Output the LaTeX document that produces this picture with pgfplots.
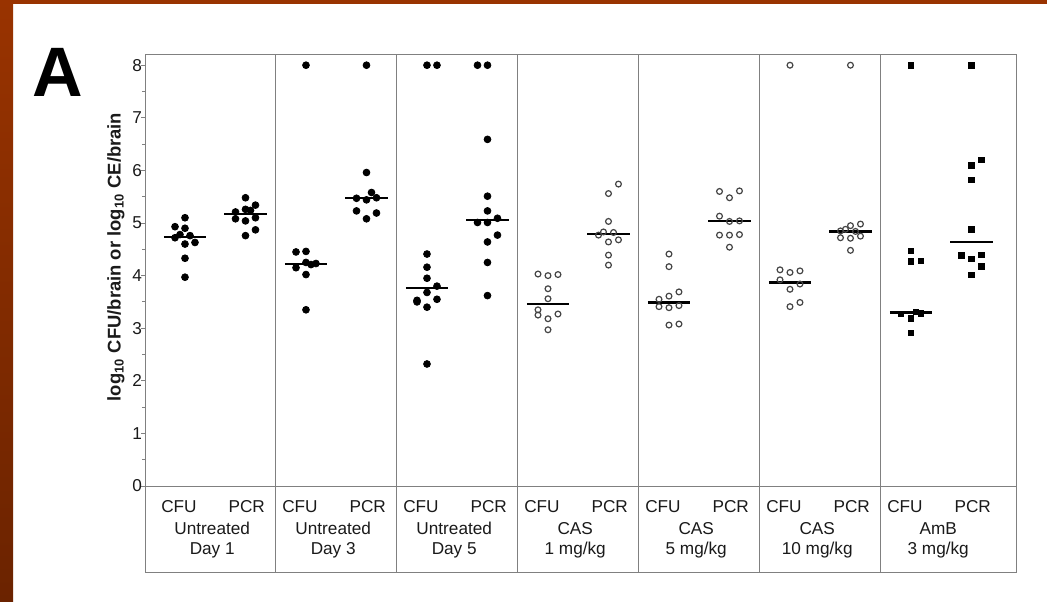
\documentclass[border=0pt]{standalone}
\usepackage{fontspec}
\setmainfont{Liberation Sans}
\usepackage{pgfplots}
\pgfplotsset{compat=1.18}
\definecolor{brownA}{HTML}{993300}
\definecolor{brownB}{HTML}{6B2300}
\definecolor{axgray}{HTML}{808080}
\definecolor{txt}{HTML}{1A1A1A}
\definecolor{circ}{HTML}{454545}
\pgfplotsset{
  filled/.style={only marks, mark=*, mark size=1.7pt, black, mark options={fill=black}},
  open/.style={only marks, mark=o, mark size=1.45pt, circ, mark options={fill=white, line width=0.6pt}},
  sq/.style={only marks, mark=square*, mark size=1.4pt, black},
  med/.style={black, line width=1.1pt, no marks},
}
\begin{document}
\begin{tikzpicture}
\useasboundingbox (0,0) rectangle (523.5pt,-300.5pt);
\fill[white] (0,0) rectangle (523.5pt,-300.5pt);
\fill[brownA] (0,0) rectangle (523.5pt,-2pt);
\shade[top color=brownA,bottom color=brownB] (0,0) rectangle (6.5pt,-300.5pt);
\node[anchor=base west, font=\fontsize{35}{35}\selectfont\bfseries, inner sep=0] at (16pt,-48.35pt) {A};
\node[rotate=90, font=\fontsize{9.2}{10}\selectfont\bfseries, text=txt] at (58pt,-128.5pt) {log\textsubscript{10} CFU/brain or log\textsubscript{10} CE/brain};
\begin{axis}[
  at={(72.5pt,-286pt)}, anchor=south west,
  scale only axis, width=435.5pt, height=259pt,
  xmin=-0.661, xmax=13.736, ymin=-1.635, ymax=8.213,
  axis line style={axgray, line width=0.5pt},
  xtick=\empty,
  ytick={0,...,8}, minor ytick={0.5,1.5,...,7.5},
  ytick pos=left,
  tick align=outside, major tick length=2pt, minor tick length=1.5pt,
  tick style={axgray, line width=0.5pt},
  yticklabel style={font=\fontsize{8.6}{10}\selectfont, text=txt, xshift=4pt},
  /pgf/number format/assume math mode=true,
  clip=false,
]
% frame lines
\draw[axgray, line width=0.5pt] ({rel axis cs:0,0}|-{axis cs:0,0}) -- ({rel axis cs:1,0}|-{axis cs:0,0});
\pgfplotsinvokeforeach{1.5,3.5,5.5,7.5,9.5,11.5}{
  \draw[axgray, line width=0.5pt] ({axis cs:#1,0}|-{rel axis cs:0,0}) -- ({axis cs:#1,0}|-{rel axis cs:0,1});
}
% Untreated Day 1
\addplot[filled] coordinates {(0,5.10) (-0.165,4.93) (0,4.90) (-0.165,4.72) (-0.083,4.78) (0.083,4.76) (0,4.60) (0.165,4.63) (0,4.33) (0,3.97)};
\addplot[filled] coordinates {(1,5.48) (1.165,5.34) (0.835,5.21) (1,5.26) (1.083,5.24) (0.835,5.08) (1,5.04) (1.165,5.10) (1.165,4.87) (1,4.76)};
% Untreated Day 3
\addplot[filled] coordinates {(2,8.0) (1.835,4.45) (2,4.46) (1.835,4.15) (2,4.25) (2.165,4.23) (2.083,4.21) (2,4.02) (2,3.35)};
\addplot[filled] coordinates {(3,8.0) (3,5.96) (3.083,5.58) (2.835,5.47) (3,5.44) (3.165,5.48) (2.835,5.23) (3.165,5.19) (3,5.08)};
% Untreated Day 5
\addplot[filled] coordinates {(4,8.0) (4.165,8.0) (4,4.41) (4,4.16) (4,3.95) (4.165,3.80) (4,3.68) (3.835,3.50) (3.835,3.53) (4.165,3.55) (4,3.40) (4,2.32)};
\addplot[filled] coordinates {(4.835,8.0) (5,8.0) (5,6.59) (5,5.51) (5,5.23) (4.835,5.01) (5,5.01) (5.165,5.09) (5.165,4.77) (5,4.64) (5,4.25) (5,3.62)};
% CAS 1
\addplot[open] coordinates {(5.835,4.03) (6,4.00) (6.165,4.02) (6,3.75) (6,3.56) (5.835,3.35) (5.835,3.25) (6,3.18) (6.165,3.27) (6,2.97)};
\addplot[open] coordinates {(7.165,5.74) (7,5.56) (7,5.03) (6.835,4.77) (6.917,4.83) (7.083,4.82) (7,4.64) (7.165,4.68) (7,4.39) (7,4.20)};
% CAS 5
\addplot[open] coordinates {(8,4.41) (8,4.17) (8.165,3.69) (7.835,3.55) (8,3.61) (7.835,3.41) (8,3.39) (8.165,3.43) (8,3.06) (8.165,3.08)};
\addplot[open] coordinates {(8.835,5.60) (9.165,5.61) (9,5.48) (8.835,5.13) (9,5.03) (9.165,5.04) (8.835,4.77) (9,4.77) (9.165,4.78) (9,4.54)};
% CAS 10
\addplot[open] coordinates {(10,8.0) (9.835,4.11) (10,4.06) (10.165,4.09) (9.835,3.92) (10.165,3.84) (10,3.74) (10,3.41) (10.165,3.49)};
\addplot[open] coordinates {(11,8.0) (11.165,4.98) (11,4.95) (10.835,4.85) (10.917,4.88) (11.083,4.84) (10.835,4.72) (11,4.71) (11.165,4.75) (11,4.48)};
% AmB 3
\addplot[sq] coordinates {(12,8.0) (12,4.47) (12,4.27) (12.165,4.28) (11.835,3.27) (12.083,3.31) (12.165,3.28) (12,3.19) (12,2.91)};
\addplot[sq] coordinates {(13,8.0) (13.165,6.20) (13,6.10) (13,5.82) (13,4.88) (12.835,4.38) (13,4.32) (13.165,4.39) (13.165,4.17) (13,4.01)};
% medians
\addplot[med] coordinates {(-0.35,4.74) (0.35,4.74)};
\addplot[med] coordinates {(0.65,5.17) (1.35,5.17)};
\addplot[med] coordinates {(1.65,4.22) (2.35,4.22)};
\addplot[med] coordinates {(2.65,5.47) (3.35,5.47)};
\addplot[med] coordinates {(3.65,3.76) (4.35,3.76)};
\addplot[med] coordinates {(4.65,5.05) (5.35,5.05)};
\addplot[med] coordinates {(5.65,3.46) (6.35,3.46)};
\addplot[med] coordinates {(6.65,4.79) (7.35,4.79)};
\addplot[med] coordinates {(7.65,3.49) (8.35,3.49)};
\addplot[med] coordinates {(8.65,5.04) (9.35,5.04)};
\addplot[med] coordinates {(9.65,3.87) (10.35,3.87)};
\addplot[med] coordinates {(10.65,4.84) (11.35,4.84)};
\addplot[med] coordinates {(11.65,3.30) (12.35,3.30)};
\addplot[med] coordinates {(12.65,4.64) (13.35,4.64)};
% labels
\tikzset{lab/.style={anchor=base, inner sep=0, font=\fontsize{8.6}{10}\selectfont, text=txt}}
\node[lab] at (axis cs:-0.1,-0.513) {CFU};  \node[lab] at (axis cs:1.02,-0.513) {PCR};
\node[lab] at (axis cs:1.9,-0.513) {CFU};   \node[lab] at (axis cs:3.02,-0.513) {PCR};
\node[lab] at (axis cs:3.9,-0.513) {CFU};   \node[lab] at (axis cs:5.02,-0.513) {PCR};
\node[lab] at (axis cs:5.9,-0.513) {CFU};   \node[lab] at (axis cs:7.02,-0.513) {PCR};
\node[lab] at (axis cs:7.9,-0.513) {CFU};   \node[lab] at (axis cs:9.02,-0.513) {PCR};
\node[lab] at (axis cs:9.9,-0.513) {CFU};   \node[lab] at (axis cs:11.02,-0.513) {PCR};
\node[lab] at (axis cs:11.9,-0.513) {CFU};  \node[lab] at (axis cs:13.02,-0.513) {PCR};
\node[lab] at (axis cs:0.45,-0.926) {Untreated}; \node[lab] at (axis cs:0.45,-1.293) {Day 1};
\node[lab] at (axis cs:2.45,-0.926) {Untreated}; \node[lab] at (axis cs:2.45,-1.293) {Day 3};
\node[lab] at (axis cs:4.45,-0.926) {Untreated}; \node[lab] at (axis cs:4.45,-1.293) {Day 5};
\node[lab] at (axis cs:6.45,-0.926) {CAS}; \node[lab] at (axis cs:6.45,-1.293) {1 mg/kg};
\node[lab] at (axis cs:8.45,-0.926) {CAS}; \node[lab] at (axis cs:8.45,-1.293) {5 mg/kg};
\node[lab] at (axis cs:10.45,-0.926) {CAS}; \node[lab] at (axis cs:10.45,-1.293) {10 mg/kg};
\node[lab] at (axis cs:12.45,-0.926) {AmB}; \node[lab] at (axis cs:12.45,-1.293) {3 mg/kg};
\end{axis}
\end{tikzpicture}
\end{document}
